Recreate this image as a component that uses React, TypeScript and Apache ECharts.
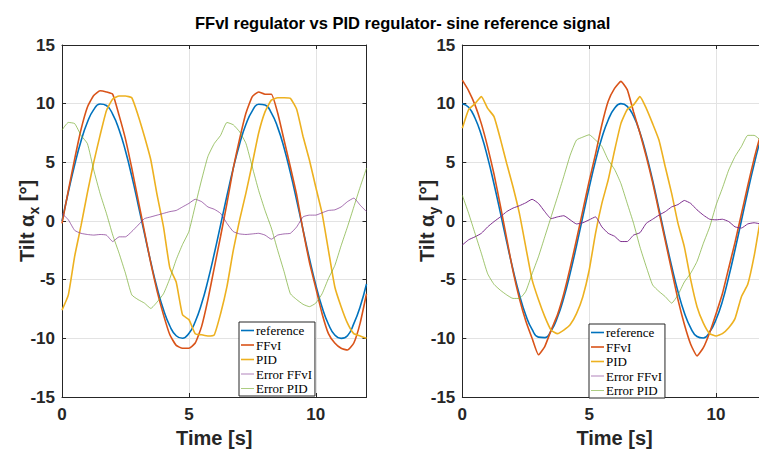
import React, { useEffect, useRef } from 'react';
import * as echarts from 'echarts';

// time axis (s)
const T = [0, 0.25, 0.5, 0.75, 1, 1.25, 1.5, 1.75, 2, 2.25, 2.5, 2.75, 3, 3.25, 3.5, 3.75, 4, 4.25, 4.5, 4.75, 5, 5.25, 5.5, 5.75, 6, 6.25, 6.5, 6.75, 7, 7.25, 7.5, 7.75, 8, 8.25, 8.5, 8.75, 9, 9.25, 9.5, 9.75, 10, 10.25, 10.5, 10.75, 11, 11.25, 11.5, 11.75, 12];

// left subplot (Tilt alpha_x)
const refX = [0, 2.47, 4.79, 6.82, 8.41, 9.49, 9.97, 9.84, 9.09, 7.78, 5.98, 3.82, 1.41, -1.08, -3.51, -5.72, -7.57, -8.95, -9.78, -9.99, -9.59, -8.59, -7.06, -5.08, -2.79, -0.33, 2.15, 4.5, 6.57, 8.24, 9.38, 9.95, 9.89, 9.22, 7.98, 6.25, 4.12, 1.74, -0.75, -3.2, -5.44, -7.36, -8.8, -9.72, -10.0, -9.78, -8.75, -7.3, -5.37];
const ffviX = [-0.2, 2.6, 5.3, 7.8, 9.7, 10.7, 11.1, 11.0, 10.8, 9.0, 7.0, 4.5, 1.8, -0.9, -3.6, -6.0, -8.0, -9.7, -10.6, -10.85, -10.85, -10.4, -9.0, -6.7, -4.0, -1.3, 1.5, 4.5, 7.0, 9.2, 10.6, 11.0, 10.8, 10.8, 9.2, 6.9, 4.6, 2.2, -0.8, -3.5, -5.7, -7.9, -9.6, -10.4, -10.85, -11.0, -10.4, -8.7, -6.2];
const pidX = [-7.6, -6.3, -3.0, -0.4, 2.4, 5.0, 7.3, 9.4, 10.4, 10.65, 10.65, 10.5, 9.0, 7.2, 5.2, 2.2, -0.5, -4.0, -5.2, -8.0, -8.4, -9.6, -9.7, -9.8, -9.7, -7.9, -5.6, -2.5, 0.1, 2.4, 4.9, 7.5, 9.3, 10.3, 10.5, 10.5, 10.45, 9.5, 7.2, 5.2, 2.9, 0.65, -2.5, -5.6, -7.3, -8.7, -9.6, -9.8, -10.0];
const errFfviX = [0.65, 0.1, -0.8, -1.05, -1.15, -1.2, -1.15, -1.2, -1.75, -1.35, -1.35, -0.9, -0.35, 0.2, 0.35, 0.5, 0.65, 0.8, 0.9, 1.2, 1.5, 1.85, 1.65, 1.2, 1.0, 0.65, -0.2, -0.9, -1.1, -1.15, -1.1, -1.05, -1.2, -1.55, -1.2, -1.1, -1.05, -0.5, 0.35, 0.5, 0.5, 0.7, 0.9, 0.95, 1.2, 1.65, 1.95, 1.35, 0.8];
const errPidX = [7.75, 8.4, 8.3, 7.3, 6.6, 4.35, 2.35, 0.65, -1.2, -2.75, -4.45, -6.3, -6.7, -7.0, -7.45, -6.9, -6.2, -4.9, -3.3, -2.0, -0.9, 1.3, 3.5, 5.5, 6.6, 7.3, 8.4, 8.2, 7.6, 6.6, 4.6, 2.6, 0.9, -0.6, -2.5, -4.3, -6.2, -6.7, -7.1, -7.3, -7.0, -6.2, -4.9, -3.8, -2.1, -0.5, 1.2, 2.9, 4.5];

// right subplot (Tilt alpha_y)
const refY = [10, 9.69, 8.78, 7.32, 5.4, 3.15, 0.71, -1.78, -4.16, -6.28, -8.01, -9.24, -9.9, -9.94, -9.37, -8.21, -6.54, -4.46, -2.11, 0.38, 2.84, 5.12, 7.09, 8.61, 9.6, 10.0, 9.77, 8.93, 7.54, 5.68, 3.47, 1.03, -1.46, -3.85, -6.02, -7.82, -9.11, -9.84, -9.97, -9.45, -8.39, -6.85, -4.76, -2.43, 0.04, 2.51, 4.83, 6.91, 8.44];
const ffviY = [12.0, 11.1, 9.9, 8.3, 6.3, 4.0, 1.3, -1.5, -4.3, -6.6, -8.5, -10.0, -11.4, -10.7, -9.3, -8.0, -6.2, -4.0, -1.6, 0.9, 3.4, 5.7, 8.2, 10.2, 11.3, 11.9, 11.2, 9.3, 7.5, 5.5, 3.3, 0.8, -1.7, -4.2, -6.7, -8.8, -10.5, -11.5, -10.8, -9.5, -7.9, -6.2, -4.0, -1.8, 0.6, 3.0, 5.3, 7.3, 8.9];
const pidY = [7.9, 9.5, 10.0, 10.6, 9.6, 8.9, 7.0, 4.9, 2.9, 0.65, -2.2, -5.0, -6.7, -8.15, -9.3, -9.6, -9.3, -8.85, -7.9, -6.45, -4.2, -1.05, 1.5, 3.5, 6.0, 8.3, 9.5, 9.9, 10.6, 9.6, 8.3, 6.9, 4.6, 2.35, -0.2, -2.2, -5.0, -7.3, -8.7, -9.6, -9.8, -9.6, -9.1, -8.3, -6.45, -5.4, -3.0, 0.1, 2.0];
const errFfviY = [-2.05, -1.6, -1.35, -1.05, -0.5, -0.05, 0.35, 0.8, 1.1, 1.3, 1.55, 1.85, 1.5, 0.8, 0.2, 0.35, 0.45, 0.1, -0.25, -0.15, 0.1, 0.35, -0.5, -1.05, -1.3, -1.75, -1.75, -1.2, -1.0, -0.2, 0.15, 0.5, 0.8, 1.2, 1.4, 1.75, 1.5, 0.95, 0.5, 0.15, 0.1, 0.15, -0.05, -0.5, -0.6, -0.25, -0.15, -0.25, -0.3];
const errPidY = [2.2, 0.65, -1.05, -2.75, -4.5, -5.4, -5.9, -6.3, -6.6, -6.6, -6.0, -4.5, -3.05, -1.35, 0.35, 2.05, 3.8, 5.6, 6.9, 7.15, 7.35, 6.9, 6.35, 5.2, 4.4, 3.2, 1.5, -0.2, -2.2, -3.9, -5.45, -6.0, -6.45, -7.0, -6.3, -5.2, -4.45, -3.45, -1.9, -0.5, 1.35, 2.8, 4.35, 5.5, 6.35, 7.3, 7.3, 6.9, 6.5];

const NAMES = ['reference', 'FFvI', 'PID', 'Error FFvI', 'Error PID'];
const COLORS = ['#0072BD', '#D95319', '#EDB120', '#7E2F8E', '#77AC30'];
const TITLE = 'FFvI regulator vs PID regulator- sine reference signal';

const SANS = '"Liberation Sans", Arial, Helvetica, sans-serif';
const SERIF = '"Liberation Serif", "Times New Roman", serif';
const AX = '#262626';
const THICK_ICON = 'path://M0,0 H26 V3.2 H0 Z';
const THIN_ICON = 'path://M0,0 H26 V1.2 H0 Z';

function pairs(v: number[]) {
  return T.map((t, i) => [t, v[i]]);
}

function buildOption() {
  const gridW = 304.5;
  const grids = [
    { left: 62, top: 45, width: gridW, height: 352 },
    { left: 462.3, top: 45, width: gridW, height: 352 },
  ];
  const xAxes: any[] = [];
  const yAxes: any[] = [];
  [0, 1].forEach((g) => {
    xAxes.push({
      type: 'value', gridIndex: g, min: 0, max: 12, interval: 5, position: 'bottom',
      axisLine: { show: true, onZero: false, lineStyle: { color: AX, width: 1 } },
      axisTick: { show: true, inside: true, length: 4, lineStyle: { color: AX } },
      axisLabel: { fontSize: 17, fontWeight: 'bold', color: AX, fontFamily: SANS, margin: 9, showMaxLabel: false },
      splitLine: { show: true, lineStyle: { color: '#e3e3e3', width: 1 } },
      name: 'Time [s]', nameLocation: 'middle', nameGap: 31, nameMoveOverlap: false,
      nameTextStyle: { fontSize: 20, fontWeight: 'bold', color: AX, fontFamily: SANS },
    });
    xAxes.push({
      type: 'value', gridIndex: g, min: 0, max: 12, interval: 5, position: 'top',
      axisLine: { show: true, onZero: false, lineStyle: { color: AX, width: 1 } },
      axisTick: { show: true, inside: true, length: 4, lineStyle: { color: AX } },
      axisLabel: { show: false }, splitLine: { show: false },
    });
    const sub = g === 0 ? 'x' : 'y';
    yAxes.push({
      type: 'value', gridIndex: g, min: -15, max: 15, interval: 5, position: 'left',
      axisLine: { show: true, onZero: false, lineStyle: { color: AX, width: 1 } },
      axisTick: { show: true, inside: true, length: 4, lineStyle: { color: AX } },
      axisLabel: { fontSize: 17, fontWeight: 'bold', color: AX, fontFamily: SANS, margin: 7 },
      splitLine: { show: true, lineStyle: { color: '#e3e3e3', width: 1 } },
      name: '{a|Tilt α}{s|' + sub + '}{a| [°]}', nameLocation: 'middle', nameGap: 23, nameMoveOverlap: false,
      nameTextStyle: {
        rich: {
          a: { fontSize: 20, fontWeight: 'bold', color: AX, fontFamily: SANS, lineHeight: 22, verticalAlign: 'top' },
          s: { fontSize: 14, fontWeight: 'bold', color: AX, fontFamily: SANS, lineHeight: 22, verticalAlign: 'top', padding: [10, 0, 0, 0] },
        },
      },
    });
    yAxes.push({
      type: 'value', gridIndex: g, min: -15, max: 15, interval: 5, position: 'right',
      axisLine: { show: true, onZero: false, lineStyle: { color: AX, width: 1 } },
      axisTick: { show: true, inside: true, length: 4, lineStyle: { color: AX } },
      axisLabel: { show: false }, splitLine: { show: false },
    });
  });

  const sets = [
    [refX, ffviX, pidX, errFfviX, errPidX],
    [refY, ffviY, pidY, errFfviY, errPidY],
  ];
  const series: any[] = [];
  sets.forEach((arrs, g) => {
    arrs.forEach((arr, k) => {
      const thin = k >= 3;
      series.push({
        type: 'line', name: NAMES[k], xAxisIndex: g * 2, yAxisIndex: g * 2,
        data: pairs(arr), symbol: 'none', showSymbol: false,
        smooth: k === 0 ? 0.5 : 0.15,
        lineStyle: { color: COLORS[k], width: thin ? (k === 3 && g === 1 ? 1 : 0.7) : 1.6 },
        itemStyle: { color: COLORS[k] },
        z: 2 + k,
      });
    });
  });

  const legendBase = {
    data: NAMES.map((n, k) => ({ name: n, icon: k < 3 ? THICK_ICON : THIN_ICON })),
    orient: 'vertical', itemWidth: 13, itemHeight: 10, itemGap: 1.5,
    padding: [2, 3, 1, 2], borderColor: AX, borderWidth: 1, backgroundColor: '#fff',
    selectedMode: false, borderRadius: 0,
    textStyle: { fontFamily: SERIF, fontSize: 13, color: '#000', lineHeight: 13, padding: [0, 0, 0, -3] },
  };

  return {
    animation: false,
    backgroundColor: '#fff',
    title: {
      text: TITLE, left: 190, top: 9,
      textStyle: { fontSize: 16.5, fontWeight: 'bold', color: '#000', fontFamily: SANS },
    },
    grid: grids,
    xAxis: xAxes,
    yAxis: yAxes,
    legend: [
      { ...legendBase, left: 239, top: 322 },
      { ...legendBase, left: 589, top: 324 },
    ],
    series,
  };
}

export default function App() {
  const ref = useRef<HTMLDivElement>(null);
  useEffect(() => {
    if (!ref.current) return;
    const chart = echarts.init(ref.current, null, { renderer: 'svg' });
    chart.setOption(buildOption() as any);
    return () => chart.dispose();
  }, []);
  return (
    <div style={{ position: 'absolute', left: 0, top: 0, width: 759, height: 453, overflow: 'hidden', background: '#fff' }}>
      <div ref={ref} style={{ position: 'absolute', left: 0, top: 0, width: 790, height: 453 }} />
    </div>
  );
}
